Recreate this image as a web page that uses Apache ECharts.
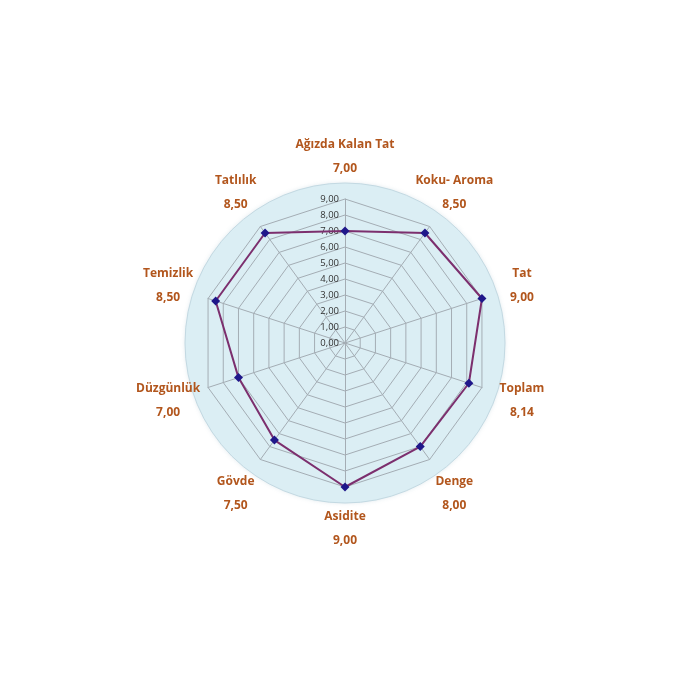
<!DOCTYPE html>
<html>
<head>
<meta charset="utf-8">
<script src="https://cdn.jsdelivr.net/npm/echarts@6/dist/echarts.min.js"></script>
<style>html,body{margin:0;padding:0;background:#fff}#c{width:700px;height:700px}</style>
</head>
<body>
<div id="c"></div>
<script>
// Indicators in clockwise order starting at the top
const categories = ['Ağızda Kalan Tat', 'Koku- Aroma', 'Tat', 'Toplam', 'Denge', 'Asidite', 'Gövde', 'Düzgünlük', 'Temizlik', 'Tatlılık'];
const scores = [7.00, 8.50, 9.00, 8.14, 8.00, 9.00, 7.50, 7.00, 8.50, 8.50];
const tickLabels = ['0,00', '1,00', '2,00', '3,00', '4,00', '5,00', '6,00', '7,00', '8,00', '9,00'];
const axisMax = 9;

const fmt = v => v.toFixed(2).replace('.', ',');

// ECharts lays indicators counter-clockwise; reorder to get clockwise
const order = categories.map((_, i) => (categories.length - i) % categories.length);
const ordNames = order.map(i => categories[i]);
const ordScores = order.map(i => scores[i]);

const indicators = ordNames.map((n, i) => {
  const o = { name: n, min: 0, max: axisMax };
  if (i === 0) {
    o.axisLabel = {
      show: true, fontSize: 9.5, color: '#333333', fontFamily: 'Open Sans', margin: 6,
      formatter: v => tickLabels[Math.round(v)] ?? fmt(v)
    };
  }
  return o;
});

const chart = echarts.init(document.getElementById('c'), null, { renderer: 'canvas' });
chart.setOption({
  animation: false,
  backgroundColor: '#ffffff',
  radar: [
    {
      center: [345, 343], radius: 160, shape: 'circle', splitNumber: 1,
      indicator: ordNames.map(n => ({ name: n, max: 1 })),
      axisName: { show: false },
      axisLine: { show: false }, axisTick: { show: false }, axisLabel: { show: false },
      splitLine: { show: true, lineStyle: { color: '#c3d9e2', width: 1 } },
      splitArea: { show: true, areaStyle: { color: ['#dbeef4'], shadowColor: 'rgba(120,160,180,0.25)', shadowBlur: 4 } }
    },
    {
      center: [345, 343], radius: 144, shape: 'polygon', splitNumber: 9,
      indicator: indicators,
      nameGap: 42,
      axisName: {
        align: 'center', verticalAlign: 'middle',
        formatter: (name) => '{n|' + name + '}\n{v|' + fmt(scores[categories.indexOf(name)]) + '}',
        rich: {
          n: { fontFamily: 'Open Sans', fontWeight: 'bold', fontSize: 12, color: '#b2561d', align: 'center', lineHeight: 24 },
          v: { fontFamily: 'Open Sans', fontWeight: 'bold', fontSize: 12, color: '#b2561d', align: 'center', lineHeight: 24 }
        }
      },
      axisLine: { show: true, lineStyle: { color: '#a4adb4', width: 1 } },
      axisTick: { show: false },
      axisLabel: { show: false },
      splitLine: { show: true, lineStyle: { color: '#a4adb4', width: 1 } },
      splitArea: { show: false }
    }
  ],
  series: [{
    type: 'radar', radarIndex: 1,
    symbol: 'diamond', symbolSize: 9,
    lineStyle: { color: '#7c2f6e', width: 2 },
    itemStyle: { color: '#1f178a' },
    data: [{ value: ordScores }]
  }]
});
</script>
</body>
</html>
